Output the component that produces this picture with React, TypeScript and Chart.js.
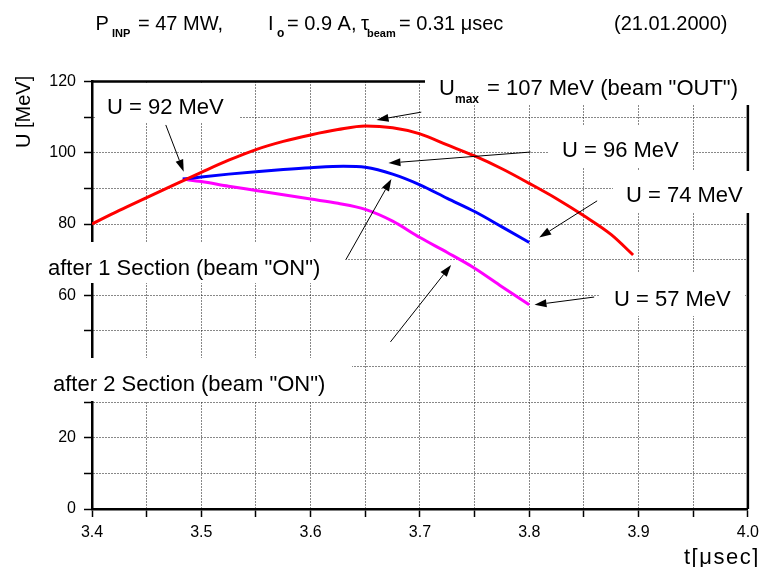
import React, { useEffect, useRef } from 'react';
import { Chart, registerables } from 'chart.js';

Chart.register(...registerables);

const FONT = '"Liberation Sans", Arial, Helvetica, sans-serif';

// time axis (µs) and energies (MeV)
const redT = [3.4, 3.425, 3.45, 3.475, 3.5, 3.525, 3.55, 3.575, 3.6, 3.625, 3.65, 3.675, 3.7, 3.725, 3.75, 3.775, 3.8, 3.825, 3.85, 3.875, 3.895];
const redU = [80.0, 83.8, 87.4, 91.0, 94.5, 97.9, 100.9, 103.2, 105.0, 106.5, 107.5, 107.0, 105.3, 102.2, 99.1, 95.5, 91.4, 87.1, 82.3, 77.0, 71.3];

const blueT = [3.483, 3.5, 3.525, 3.55, 3.575, 3.6, 3.63, 3.65, 3.675, 3.7, 3.725, 3.75, 3.775, 3.8];
const blueU = [92.6, 93.2, 94.0, 94.7, 95.3, 95.8, 96.2, 95.9, 94.0, 91.0, 87.2, 83.5, 79.2, 74.8];

const magT = [3.483, 3.5, 3.525, 3.55, 3.575, 3.6, 3.625, 3.65, 3.675, 3.7, 3.725, 3.75, 3.775, 3.8];
const magU = [92.6, 91.9, 90.6, 89.4, 88.2, 87.0, 85.8, 84.1, 80.8, 76.2, 72.0, 67.6, 62.4, 57.3];

const xMin = 3.4;
const xMax = 4.0;
const yMin = 0;
const yMax = 120;

// arrows in data coordinates: [tailT, tailU, tipT, tipU]
const arrows: number[][] = [
  [3.4675, 107.8, 3.4839, 94.7],
  [3.7012, 111.4, 3.6603, 109.2],
  [3.8012, 100.2, 3.6712, 97.1],
  [3.8621, 86.5, 3.8091, 76.2],
  [3.6321, 69.9, 3.6739, 92.6],
  [3.673, 46.9, 3.7285, 68.5],
  [3.8594, 59.5, 3.8048, 57.3],
];

function txt(ctx: CanvasRenderingContext2D, s: string, x: number, y: number, size: number, bold = false, align: CanvasTextAlign = 'left') {
  ctx.font = `${bold ? 'bold ' : ''}${size}px ${FONT}`;
  ctx.textAlign = align;
  ctx.textBaseline = 'alphabetic';
  ctx.fillStyle = '#000';
  ctx.fillText(s, x, y);
}

const overlay = {
  id: 'overlay',
  beforeDatasetsDraw(chart: any) {
    const { ctx, chartArea: a } = chart;
    ctx.save();
    ctx.strokeStyle = '#000';
    ctx.lineWidth = 2.5;
    ctx.setLineDash([]);
    ctx.beginPath();
    ctx.moveTo(a.left, a.top);
    ctx.lineTo(a.right, a.top);
    ctx.lineTo(a.right, a.bottom);
    ctx.stroke();
    // white label backgrounds
    const boxes = [
      [95, 83, 240, 123],
      [425, 55, 765, 105],
      [548, 126, 693, 168],
      [613, 171, 765, 213],
      [0, 242, 347, 283],
      [0, 358, 352, 401],
      [600, 273, 745, 316],
    ];
    ctx.fillStyle = '#fff';
    for (const [x0, y0, x1, y1] of boxes) ctx.fillRect(x0, y0, x1 - x0, y1 - y0);
    ctx.restore();
  },
  afterDraw(chart: any) {
    const { ctx } = chart;
    const xs = chart.scales.x;
    const ys = chart.scales.y;
    ctx.save();
    // title
    txt(ctx, 'P', 95.5, 30, 20);
    txt(ctx, 'INP', 112, 37, 11, true);
    txt(ctx, '= 47 MW,', 138, 30, 20);
    txt(ctx, 'I', 268, 30, 20);
    txt(ctx, 'o', 277, 37, 12, true);
    txt(ctx, '= 0.9 A,', 287, 30, 20);
    txt(ctx, 'τ', 361, 30, 20);
    txt(ctx, 'beam', 367, 37, 11, true);
    txt(ctx, '= 0.31 μsec', 399, 30, 20);
    txt(ctx, '(21.01.2000)', 614, 30, 20);

    // annotations
    txt(ctx, 'U = 92 MeV', 107, 114, 22);
    txt(ctx, 'U', 439, 95, 22);
    txt(ctx, 'max', 455, 103, 12, true);
    txt(ctx, '= 107 MeV (beam "OUT")', 487, 95, 22);
    txt(ctx, 'U = 96 MeV', 562, 157, 22);
    txt(ctx, 'U = 74 MeV', 626, 202, 22);
    txt(ctx, 'after 1 Section (beam "ON")', 48, 275, 22);
    txt(ctx, 'after 2 Section (beam "ON")', 53, 391, 22);
    txt(ctx, 'U = 57 MeV', 614, 306, 22);

    // axis titles
    ctx.save();
    ctx.translate(30, 148);
    ctx.rotate(-Math.PI / 2);
    txt(ctx, 'U [MeV]', 0, 0, 20);
    ctx.restore();
    ctx.save();
    (ctx as any).letterSpacing = '1.5px';
    txt(ctx, 't[μsec]', 684, 564, 22);
    ctx.restore();

    // arrows
    ctx.strokeStyle = '#000';
    ctx.fillStyle = '#000';
    ctx.lineWidth = 1;
    ctx.setLineDash([]);
    for (const [t0, u0, t1, u1] of arrows) {
      const x0 = xs.getPixelForValue(t0);
      const y0 = ys.getPixelForValue(u0);
      const x1 = xs.getPixelForValue(t1);
      const y1 = ys.getPixelForValue(u1);
      const ang = Math.atan2(y1 - y0, x1 - x0);
      const hl = 12;
      const hw = 4;
      const bx = x1 - hl * Math.cos(ang);
      const by = y1 - hl * Math.sin(ang);
      ctx.beginPath();
      ctx.moveTo(x0, y0);
      ctx.lineTo(bx, by);
      ctx.stroke();
      ctx.beginPath();
      ctx.moveTo(x1, y1);
      ctx.lineTo(bx + hw * Math.sin(ang), by - hw * Math.cos(ang));
      ctx.lineTo(bx - hw * Math.sin(ang), by + hw * Math.cos(ang));
      ctx.closePath();
      ctx.fill();
    }
    ctx.restore();
  },
};

function pts(t: number[], u: number[]) {
  return t.map((v, i) => ({ x: v, y: u[i] }));
}

export default function App() {
  const ref = useRef<HTMLCanvasElement>(null);
  useEffect(() => {
    if (!ref.current) return;
    Chart.defaults.font.family = FONT;
    Chart.defaults.color = '#000';
    const gridCommon = {
      color: '#111',
      lineWidth: 1,
      drawTicks: true,
      tickLength: 8,
      tickColor: '#000',
      tickWidth: 1.5,
      tickBorderDash: [],
    };
    const borderCommon = { display: true, color: '#000', width: 2.5, dash: [1, 2] };
    const chart = new Chart(ref.current, {
      type: 'line',
      data: {
        datasets: [
          { data: pts(redT, redU), borderColor: '#ff0000', borderWidth: 3, pointRadius: 0, cubicInterpolationMode: 'monotone', fill: false },
          { data: pts(blueT, blueU), borderColor: '#0000ff', borderWidth: 3, pointRadius: 0, cubicInterpolationMode: 'monotone', fill: false },
          { data: pts(magT, magU), borderColor: '#ff00ff', borderWidth: 3, pointRadius: 0, cubicInterpolationMode: 'monotone', fill: false },
        ],
      },
      options: {
        animation: false,
        responsive: false,
        events: [],
        layout: { padding: { left: 0, top: 81.5, right: 13.3, bottom: 0 } },
        plugins: { legend: { display: false }, tooltip: { enabled: false }, title: { display: false } },
        scales: {
          x: {
            type: 'linear',
            min: xMin,
            max: xMax,
            grid: gridCommon as any,
            border: borderCommon as any,
            ticks: {
              stepSize: 0.05,
              autoSkip: false,
              maxRotation: 0,
              padding: 6,
              font: { size: 16 },
              color: '#000',
              callback: (v: any) => {
                const k = Math.round(Number(v) * 100);
                return k % 10 === 0 ? (k / 100).toFixed(1) : '';
              },
            },
            afterFit: (s: any) => { s.height = 58; },
          },
          y: {
            type: 'linear',
            min: yMin,
            max: yMax,
            grid: gridCommon as any,
            border: borderCommon as any,
            ticks: {
              stepSize: 10,
              autoSkip: false,
              padding: 8,
              font: { size: 16 },
              color: '#000',
              callback: (v: any) => (Math.round(Number(v)) % 20 === 0 ? String(Math.round(Number(v))) : ''),
            },
            afterFit: (s: any) => { s.width = 92; },
          },
        },
      } as any,
      plugins: [overlay],
    });
    return () => chart.destroy();
  }, []);
  return (
    <div style={{ position: 'absolute', left: 0, top: 0, width: 765, height: 567, background: '#fff' }}>
      <canvas ref={ref} width={765} height={567} style={{ display: 'block', width: 765, height: 567 }} />
    </div>
  );
}
